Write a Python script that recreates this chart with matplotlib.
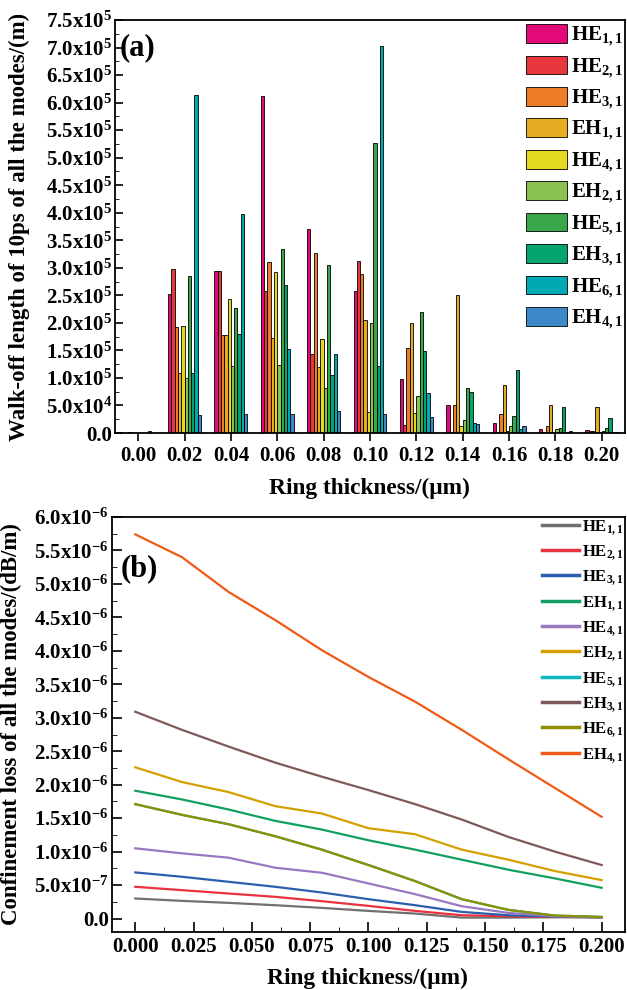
import numpy as np
import matplotlib
matplotlib.use("Agg")
import matplotlib.pyplot as plt
from matplotlib.ticker import MultipleLocator, FuncFormatter

plt.rcParams['font.family'] = ['Liberation Serif', 'DejaVu Serif']
plt.rcParams['font.weight'] = 'bold'
plt.rcParams['mathtext.fontset'] = 'custom'
plt.rcParams['mathtext.rm'] = 'Liberation Serif:bold'
plt.rcParams['mathtext.it'] = 'Liberation Serif:bold'
plt.rcParams['mathtext.bf'] = 'Liberation Serif:bold'

################# DATA #################
thickness = [0.00, 0.02, 0.04, 0.06, 0.08, 0.10, 0.12, 0.14, 0.16, 0.18, 0.20]  # um
modes = ['HE$_{1,1}$', 'HE$_{2,1}$', 'HE$_{3,1}$', 'EH$_{1,1}$', 'HE$_{4,1}$',
         'EH$_{2,1}$', 'HE$_{5,1}$', 'EH$_{3,1}$', 'HE$_{6,1}$', 'EH$_{4,1}$']

# (a) walk-off length of 10 ps, x1e5 m
walkoff_HE11 = [0.005, 2.53, 2.95, 6.12, 3.71, 2.57, 0.99, 0.51, 0.19, 0.07, 0.06]
walkoff_HE21 = [0.005, 2.97, 2.94, 2.58, 1.44, 3.12, 0.14, 0.01, 0.01, 0.02, 0.03]
walkoff_HE31 = [0.01, 1.92, 1.78, 3.10, 3.26, 2.89, 1.54, 0.51, 0.34, 0.13, 0.04]
walkoff_EH11 = [0.0, 1.09, 1.78, 1.73, 1.20, 2.05, 2.00, 2.51, 0.87, 0.51, 0.47]
walkoff_HE41 = [0.0, 1.94, 2.43, 2.92, 1.70, 0.39, 0.36, 0.13, 0.04, 0.01, 0.01]
walkoff_EH21 = [0.0, 1.00, 1.22, 1.23, 0.82, 2.00, 0.68, 0.23, 0.13, 0.08, 0.03]
walkoff_HE51 = [0.0, 2.85, 2.27, 3.34, 3.06, 5.27, 2.19, 0.81, 0.31, 0.10, 0.10]
walkoff_EH31 = [0.0, 1.09, 1.80, 2.68, 1.06, 1.22, 1.49, 0.75, 1.14, 0.48, 0.28]
walkoff_HE61 = [0.04, 6.14, 3.98, 1.53, 1.44, 7.03, 0.73, 0.19, 0.07, 0.02, 0.01]
walkoff_EH41 = [0.0, 0.33, 0.345, 0.35, 0.40, 0.34, 0.29, 0.17, 0.13, 0.03, 0.02]

# (b) confinement loss, x1e-6 dB/m
loss_HE11 = [0.30, 0.265, 0.235, 0.20, 0.16, 0.115, 0.075, 0.015, 0.015, 0.02, 0.02]
loss_HE21 = [0.475, 0.425, 0.375, 0.325, 0.26, 0.19, 0.115, 0.05, 0.035, 0.025, 0.02]
loss_HE31 = [0.69, 0.625, 0.55, 0.475, 0.39, 0.29, 0.20, 0.10, 0.05, 0.03, 0.02]
loss_EH11 = [1.91, 1.78, 1.63, 1.46, 1.33, 1.17, 1.03, 0.88, 0.73, 0.60, 0.46]
loss_HE41 = [1.05, 0.975, 0.91, 0.76, 0.685, 0.525, 0.365, 0.185, 0.085, 0.035, 0.02]
loss_EH21 = [2.26, 2.04, 1.89, 1.68, 1.57, 1.35, 1.26, 1.03, 0.88, 0.71, 0.575]
loss_HE51 = [1.71, 1.55, 1.41, 1.23, 1.03, 0.80, 0.56, 0.29, 0.13, 0.045, 0.025]
loss_EH31 = [3.09, 2.82, 2.57, 2.33, 2.12, 1.92, 1.71, 1.48, 1.22, 1.00, 0.80]
loss_HE61 = [1.71, 1.55, 1.41, 1.23, 1.03, 0.80, 0.56, 0.29, 0.13, 0.045, 0.025]
loss_EH41 = [5.74, 5.40, 4.88, 4.46, 4.01, 3.61, 3.24, 2.82, 2.38, 1.95, 1.52]

walkoff = [walkoff_HE11, walkoff_HE21, walkoff_HE31, walkoff_EH11, walkoff_HE41,
           walkoff_EH21, walkoff_HE51, walkoff_EH31, walkoff_HE61, walkoff_EH41]
loss = [loss_HE11, loss_HE21, loss_HE31, loss_EH11, loss_HE41,
        loss_EH21, loss_HE51, loss_EH31, loss_HE61, loss_EH41]

bar_colors = ['#e4097a', '#e8373c', '#ee7d2a', '#e8ac24', '#e3d921',
              '#8bc151', '#3aa64a', '#05a46e', '#00aab5', '#3d88c8']
line_colors = ['#707070', '#e8323c', '#2b5fad', '#12a060', '#9a78c0',
               '#d4a000', '#10b8c0', '#805858', '#8f8f00', '#f05a14']


def sci_label(v, pos):
    if abs(v) < 1e-20:
        return '0.0'
    e = int(np.floor(np.log10(abs(v)) + 1e-9))
    m = v / 10**e
    return '%.1fx10$^{%d}$' % (m, e)


def style_axes(ax):
    for s in ax.spines.values():
        s.set_linewidth(1.3)
    ax.yaxis.set_major_formatter(FuncFormatter(sci_label))
    ax.tick_params(labelsize=15, width=1.2)


fig = plt.figure(figsize=(6.27, 9.9), dpi=100)

################# (a) #################
ax1 = fig.add_axes([0.1834, 0.5626, 0.8134, 0.4172])
x = np.array(thickness)
w = 0.00142
for i in range(len(modes)):
    ax1.bar(x + (i - 4.5) * w, np.array(walkoff[i]) * 1e5, width=w,
            color=bar_colors[i], edgecolor='black', linewidth=0.6, label=modes[i])
ax1.set_xlim(-0.01, 0.21)
ax1.set_ylim(0, 7.5e5)
ax1.set_xticks(thickness)
ax1.xaxis.set_major_formatter(FuncFormatter(lambda v, p: '%.2f' % v))
ax1.yaxis.set_major_locator(MultipleLocator(5e4))
ax1.yaxis.set_minor_locator(MultipleLocator(2.5e4))
style_axes(ax1)
ax1.tick_params(axis='y', which='both', direction='in', pad=2)
ax1.tick_params(axis='y', which='major', length=6)
ax1.tick_params(axis='y', which='minor', length=3)
ax1.tick_params(axis='x', direction='out', length=6)
ax1.set_xlabel('Ring thickness/(\u03bcm)', fontsize=16.8, fontweight='bold')
ax1.set_ylabel('Walk-off length of 10ps of all the modes/(m)', fontsize=16.5, fontweight='bold')
ax1.xaxis.set_label_coords(0.498, -0.109)
ax1.yaxis.set_label_coords(-0.167, 0.5)
ax1.text(0.01, 0.932, '(a)', transform=ax1.transAxes, fontsize=22, fontweight='bold', va='center')
ax1.legend(loc='upper left', bbox_to_anchor=(0.805, 0.99), frameon=False, fontsize=15,
           handlelength=2.0, handleheight=1.0, handletextpad=0.2, labelspacing=0.36,
           borderpad=0, borderaxespad=0)

################# (b) #################
ax2 = fig.add_axes([0.1786, 0.0586, 0.8182, 0.4192])
for i in range(len(modes)):
    ax2.plot(thickness, np.array(loss[i]) * 1e-6, color=line_colors[i], linewidth=1.6, label=modes[i])
ax2.set_xlim(-0.01, 0.21)
ax2.set_ylim(-2e-7, 6e-6)
ax2.xaxis.set_major_locator(MultipleLocator(0.025))
ax2.xaxis.set_minor_locator(MultipleLocator(0.0125))
ax2.xaxis.set_major_formatter(FuncFormatter(lambda v, p: '%.3f' % v))
ax2.yaxis.set_major_locator(MultipleLocator(5e-7))
ax2.yaxis.set_minor_locator(MultipleLocator(2.5e-7))
style_axes(ax2)
ax2.tick_params(which='both', direction='in')
ax2.tick_params(axis='y', pad=2)
ax2.tick_params(which='major', length=7)
ax2.tick_params(which='minor', length=3.5)
ax2.set_xlabel('Ring thickness/(\u03bcm)', fontsize=16.8, fontweight='bold')
ax2.set_ylabel('Confinement loss of all the modes/(dB/m)', fontsize=16.5, fontweight='bold')
ax2.xaxis.set_label_coords(0.498, -0.087)
ax2.yaxis.set_label_coords(-0.175, 0.5)
ax2.text(0.016, 0.875, '(b)', transform=ax2.transAxes, fontsize=22, fontweight='bold', va='center')
leg = ax2.legend(loc='upper left', bbox_to_anchor=(0.838, 0.998), frameon=False, fontsize=12,
                 handlelength=2.2, handletextpad=0.2, labelspacing=0.38,
                 borderpad=0, borderaxespad=0)
for h in leg.get_lines():
    h.set_linewidth(2.5)

fig.savefig('out.png', dpi=100)
